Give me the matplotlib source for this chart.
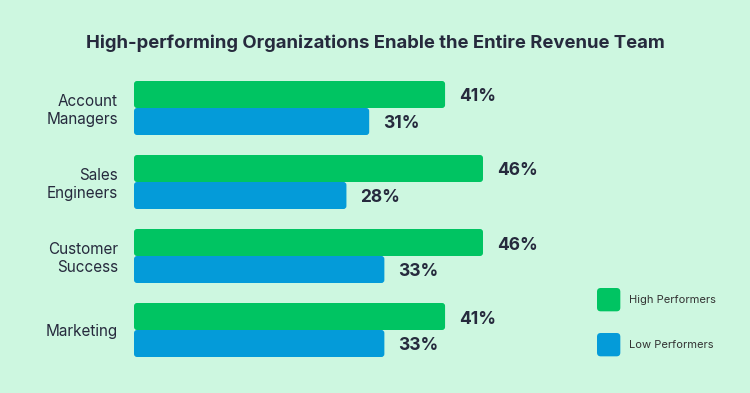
import matplotlib
matplotlib.use("Agg")
import matplotlib.pyplot as plt
from matplotlib.patches import FancyBboxPatch
from matplotlib.legend_handler import HandlerPatch
import numpy as np

categories = ["Account\nManagers", "Sales\nEngineers", "Customer\nSuccess", "Marketing"]
high_performers = [41, 46, 46, 41]
low_performers = [31, 28, 33, 33]
series_names = ["High Performers", "Low Performers"]
title = "High-performing Organizations Enable the Entire Revenue Team"

BG = "#cdf7e0"
GREEN = "#00c462"
BLUE = "#049bd9"
TEXT = "#262a3d"
FONT = "Inter"

W, H = 750, 393
fig = plt.figure(figsize=(7.5, 3.93), dpi=100, facecolor=BG)

ax_left, ax_right = 134, 560
ax_top, ax_bot = 70, 370
ax = fig.add_axes([ax_left / W, 1 - ax_bot / H, (ax_right - ax_left) / W, (ax_bot - ax_top) / H])
ax.set_facecolor(BG)

px_per_pct = (483 - 134) / 46.0
group_px = 74.0
ax.set_xlim(0, (ax_right - ax_left) / px_per_pct)
ax.set_ylim(3 + (ax_bot - 330) / group_px, -(108 - ax_top) / group_px)

y = np.arange(len(categories))
bh = 27 / group_px
b1 = ax.barh(y - bh / 2, high_performers, height=bh, color=GREEN, label=series_names[0])
b2 = ax.barh(y + bh / 2, low_performers, height=bh, color=BLUE, label=series_names[1])

aspect = (1 / group_px) / (1 / px_per_pct)
r = 3 / px_per_pct
for cont in (b1, b2):
    for p in cont.patches:
        x0, y0 = p.get_x(), p.get_y()
        w, h = p.get_width(), p.get_height()
        fb = FancyBboxPatch((x0, y0), w, h, boxstyle=f"round,pad=0,rounding_size={r}",
                            mutation_aspect=aspect, facecolor=p.get_facecolor(),
                            edgecolor="none", linewidth=0)
        p.set_visible(False)
        ax.add_patch(fb)

off = 14 / px_per_pct
for cont, vals in ((b1, high_performers), (b2, low_performers)):
    for p, v in zip(cont.patches, vals):
        ax.text(v + off, p.get_y() + p.get_height() / 2 + 2.5 / group_px, f"{v}%",
                ha="left", va="center", fontsize=12.5, fontweight="bold",
                color=TEXT, family=FONT)

ax.set_yticks(y)
ax.set_yticklabels(categories, fontsize=11, color=TEXT, family=FONT, linespacing=1.2)
ax.tick_params(axis="y", length=0, pad=11.5)
ax.set_xticks([])
for s in ax.spines.values():
    s.set_visible(False)

fig.text(0.5, 1 - 43 / H, title, ha="center", va="center", fontsize=13.3,
         fontweight="bold", color=TEXT, family=FONT)


class RoundSquare(HandlerPatch):
    def create_artists(self, legend, orig_handle, xdescent, ydescent, width, height,
                       fontsize, trans):
        s = min(width, height)
        p = FancyBboxPatch((-xdescent, -ydescent + (height - s) / 2), s, s,
                           boxstyle=f"round,pad=0,rounding_size={s * 0.16}",
                           facecolor=orig_handle.get_facecolor(), edgecolor="none",
                           transform=trans)
        return [p]


hnd = [FancyBboxPatch((0, 0), 1, 1, facecolor=GREEN, edgecolor="none"),
       FancyBboxPatch((0, 0), 1, 1, facecolor=BLUE, edgecolor="none")]
leg = fig.legend(hnd, series_names, loc="upper left",
                 bbox_to_anchor=(597 / W, 1 - 288 / H), frameon=False,
                 borderpad=0, borderaxespad=0, handlelength=2.1, handleheight=2.854,
                 handletextpad=0.8, labelspacing=1.95, prop={"family": FONT, "size": 8},
                 handler_map={FancyBboxPatch: RoundSquare()})
for t in leg.get_texts():
    t.set_color("#333333")

fig.savefig("out.png", dpi=100, facecolor=BG)
